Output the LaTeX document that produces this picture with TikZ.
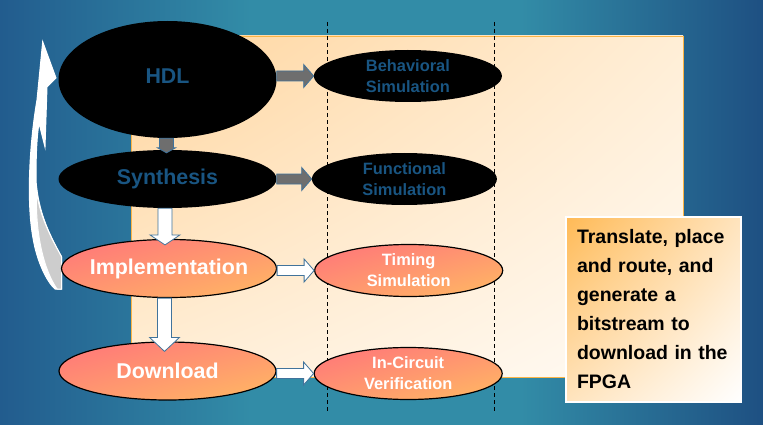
\documentclass[tikz,border=0pt]{standalone}
\usepackage{fontspec}
\setmainfont{Liberation Sans}
\usetikzlibrary{positioning,shapes.geometric,calc,shadings}

\definecolor{bgleft}{RGB}{34,92,142}
\definecolor{bgmid}{RGB}{50,140,167}
\definecolor{bgright}{RGB}{30,80,130}
\definecolor{panelA}{RGB}{255,213,158}
\definecolor{panelB}{RGB}{255,238,214}
\definecolor{panelC}{RGB}{255,251,246}
\definecolor{panelline}{RGB}{250,180,70}
\definecolor{hdlblue}{RGB}{25,85,130}
\definecolor{pinkA}{RGB}{255,116,122}
\definecolor{pinkB}{RGB}{255,150,112}
\definecolor{pinkC}{RGB}{255,186,98}
\definecolor{arrowgray}{RGB}{110,110,110}
\definecolor{arrowblue}{RGB}{65,115,155}
\definecolor{bendgray}{RGB}{205,205,205}
\definecolor{boxA}{RGB}{255,186,86}
\definecolor{boxB}{RGB}{255,228,190}

% block arrow, left to right: style, from, to
\newcommand\hblockarrow[3]{%
  \path[#1] let \p1=(#2), \p2=(#3) in
    (\x1,\y2+5pt) -- (\x2-10pt,\y2+5pt) -- (\x2-10pt,\y2+11.5pt) -- (\x2,\y2)
    -- (\x2-10pt,\y2-11.5pt) -- (\x2-10pt,\y2-5pt) -- (\x1,\y2-5pt) -- cycle;}
% block arrow, top to bottom: style, head half width, head length, from, to
\newcommand\vblockarrow[5]{%
  \path[#1] let \p1=(#4), \p2=(#5) in
    (\x2-7pt,\y1) -- (\x2-7pt,\y2+#3) -- (\x2-#2,\y2+#3) -- (\x2,\y2)
    -- (\x2+#2,\y2+#3) -- (\x2+7pt,\y2+#3) -- (\x2+7pt,\y1) -- cycle;}

\begin{document}
\begin{tikzpicture}[
  x=1pt,y=-1pt,
  node distance=37pt,
  stage/.style={ellipse,inner sep=0pt,minimum width=218pt,minimum height=58pt},
  darkstage/.style={stage,fill=black},
  warmstage/.style={stage,draw=black,line width=1.2pt,shade,
    upper left=pinkA,upper right=pinkB,lower left=pinkB,lower right=pinkC},
  simstage/.style={ellipse,inner sep=0pt,minimum width=188pt,minimum height=52pt},
  darksim/.style={simstage,fill=black},
  warmsim/.style={simstage,draw=black,line width=1.2pt,shade,
    upper left=pinkA,upper right=pinkB,lower left=pinkB,lower right=pinkC},
  stagetext/.style={font=\bfseries\fontsize{21.4}{25}\selectfont},
  simtext/.style={align=center,font=\bfseries\fontsize{16.4}{21}\selectfont},
  grayarrow/.style={fill=arrowgray,draw=arrowblue,line width=0.8pt},
  whitearrow/.style={fill=white,draw=arrowblue,line width=0.8pt},
  guide/.style={draw=black,line width=0.8pt,dash pattern=on 4pt off 3pt},
  bendarrow/.style={draw=white,line width=1pt,fill=white},
  bendback/.style={draw=white,line width=1pt,fill=bendgray},
  notebox/.style={rectangle,draw=white,line width=2.5pt,minimum width=175pt,
    minimum height=185pt,text width=153pt,align=left,
    font=\bfseries\fontsize{19.5}{29}\selectfont,shade,
    upper left=boxA,upper right=boxB,lower left=boxB,lower right=white}
]
  \useasboundingbox (0,0) rectangle (763,425);
  \shade[left color=bgleft,right color=bgmid] (0,0) rectangle (251,425);
  \fill[bgmid] (250,0) rectangle (521,425);
  \shade[left color=bgmid,right color=bgright] (520,0) rectangle (763,425);
  \shade[draw=panelline,line width=0.8pt,upper left=panelA,upper right=panelB,
    lower left=panelB,lower right=panelC] (131,36) rectangle (683,377);
  \foreach \gx in {327,494}
    \draw[guide] (\gx,22) -- (\gx,413);

  % loop back to the start
  \path[bendarrow] (61.7,257) .. controls (50,236) and (38,212) .. (36,180)
    .. controls (36,152) and (37,136) .. (39,123) -- (45,147) -- (47,87)
    -- (56,78) -- (42.7,41.7) -- (37,100)
    .. controls (30,140) and (26,200) .. (33,238)
    .. controls (37,262) and (47,282) .. (55,289) -- (61.7,289) -- cycle;
  \path[bendback] (61.7,257) .. controls (50,236) and (39,214) .. (36.5,190)
    .. controls (35,235) and (44,270) .. (57,289) -- (61.7,289) -- cycle;

  % design flow
  \node[darkstage,minimum height=117pt,
    label={[stagetext,text=hdlblue,yshift=3pt]center:HDL}] (hdl) at (167.5,79.5) {};
  \node[darkstage,label={[stagetext,text=hdlblue]center:Synthesis}]
    (synth) at (167.5,179) {};
  \node[warmstage,minimum width=215pt,label={[stagetext,text=white]center:Implementation}]
    (impl) at (169,268.5) {};
  \node[warmstage,minimum width=217pt,label={[stagetext,text=white]center:Download}]
    (down) at (167.5,371) {};

  % verification steps
  \node[darksim,right=of hdl,yshift=3.5pt,
    label={[simtext,text=hdlblue]center:Behavioral\\Simulation}] (behav) {};
  \node[darksim,minimum width=185pt,right=35pt of synth,
    label={[simtext,text=hdlblue]center:Functional\\Simulation}] (func) {};
  \node[warmsim,right=of impl,yshift=-2pt,
    label={[simtext,text=white]center:Timing\\Simulation}] (timing) {};
  \node[warmsim,right=of down,yshift=-2.5pt,
    label={[simtext,text=white]center:In-Circuit\\Verification}] (incirc) {};

  \vblockarrow{grayarrow}{9pt}{5pt}{hdl.south}{$(synth.north)+(-1,3)$}
  \vblockarrow{whitearrow}{15pt}{10pt}{synth.south}{$(impl.north)+(-4,6)$}
  \vblockarrow{whitearrow}{15pt}{14pt}{impl.south}{$(down.north)+(-3,10)$}

  \hblockarrow{grayarrow}{hdl.east}{behav.west}
  \hblockarrow{grayarrow}{synth.east}{func.west}
  \hblockarrow{whitearrow}{impl.east}{timing.west}
  \hblockarrow{whitearrow}{down.east}{incirc.west}

  \node[notebox] (note) at (653.5,309.5)
    {Translate, place\\and route, and\\generate a\\bitstream to\\download in the\\FPGA};
\end{tikzpicture}
\end{document}
